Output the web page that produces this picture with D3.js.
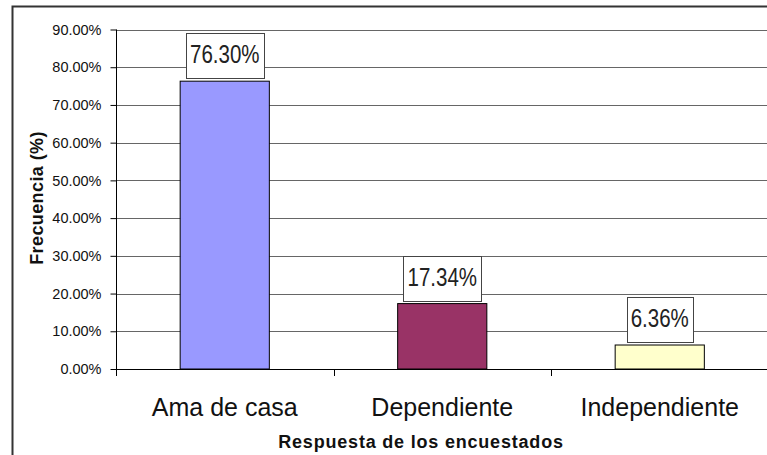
<!DOCTYPE html>
<html>
<head>
<meta charset="utf-8">
<script src="https://cdn.jsdelivr.net/npm/d3@7"></script>
<style>
  body { margin: 0; background: #fff; }
  svg { display: block; }
</style>
</head>
<body>
<div id="chart"></div>
<script>
// data
var categorias = ["Ama de casa", "Dependiente", "Independiente"];
var frecuencias = [76.30, 17.34, 6.36];
var colores = ["#9999FF", "#993366", "#FFFFCC"];
var yTicks = [0, 10, 20, 30, 40, 50, 60, 70, 80, 90];

var width = 767, height = 455;
var narrow = 0.82; // no Arial Narrow here, squeeze the labels instead

var svg = d3.select("#chart")
    .append("svg")
    .attr("width", width)
    .attr("height", height);

// outer frame (cut off on the right and bottom)
svg.append("rect")
    .attr("x", 12.5)
    .attr("y", 6.5)
    .attr("width", 900)
    .attr("height", 600)
    .style("fill", "#fff")
    .style("stroke", "#333")
    .style("stroke-width", 2);

// scales
var x = d3.scaleBand()
    .domain(categorias)
    .range([116, 768.5])
    .padding(0);

var y = d3.scaleLinear()
    .domain([0, 90])
    .range([369, 29.5]);

var barW = x.bandwidth() * 0.41;

// gridlines
svg.append("g")
    .selectAll("line")
    .data(yTicks.filter(function(d){ return d > 0; }))
    .enter()
    .append("line")
    .attr("x1", 116)
    .attr("x2", 769)
    .attr("y1", function(d){ return Math.round(y(d)) + 0.5; })
    .attr("y2", function(d){ return Math.round(y(d)) + 0.5; })
    .style("stroke", "#666")
    .style("stroke-width", 1);

// y axis
var yAxis = svg.append("g")
    .attr("transform", "translate(116.5,0)")
    .call(d3.axisLeft(y)
        .tickValues(yTicks)
        .tickSize(6)
        .tickPadding(9)
        .tickFormat(function(d){ return d.toFixed(2) + "%"; }));
yAxis.select(".domain").attr("d", "M0," + y(0) + "V" + y(90)).style("stroke", "#000");
yAxis.selectAll(".tick line").style("stroke", "#000");
yAxis.selectAll(".tick text")
    .style("font-family", "'Liberation Sans', Arial, sans-serif")
    .style("font-size", "14.5px")
    .style("fill", "#111");

// x axis line + boundary ticks
svg.append("line")
    .attr("x1", 116)
    .attr("x2", 769)
    .attr("y1", Math.round(y(0)) + 0.5)
    .attr("y2", Math.round(y(0)) + 0.5)
    .style("stroke", "#000");

var bordes = categorias.map(function(c){ return x(c); });
svg.append("g")
    .selectAll("line")
    .data(bordes)
    .enter()
    .append("line")
    .attr("x1", function(d){ return Math.round(d) + 0.5; })
    .attr("x2", function(d){ return Math.round(d) + 0.5; })
    .attr("y1", y(0))
    .attr("y2", y(0) + 7)
    .style("stroke", "#000");

// bars
svg.append("g")
    .selectAll("rect")
    .data(frecuencias)
    .enter()
    .append("rect")
    .attr("x", function(d, i){ return x(categorias[i]) + (x.bandwidth() - barW) / 2; })
    .attr("y", function(d){ return y(d); })
    .attr("width", barW)
    .attr("height", function(d){ return y(0) - y(d); })
    .style("fill", function(d, i){ return colores[i]; })
    .style("stroke", "#000")
    .style("stroke-width", 1);

// value labels in boxes
var etiquetas = svg.append("g")
    .selectAll("g")
    .data(frecuencias)
    .enter()
    .append("g");

etiquetas.append("text")
    .attr("transform", function(d, i){
        return "translate(" + (x(categorias[i]) + x.bandwidth() / 2) + "," + (y(d) - 18) + ") scale(" + narrow + ",1)";
    })
    .attr("text-anchor", "middle")
    .style("font-family", "'Liberation Sans', Arial, sans-serif")
    .style("font-size", "25px")
    .style("fill", "#222")
    .text(function(d){ return d.toFixed(2) + "%"; });

etiquetas.each(function(d, i){
    var g = d3.select(this);
    var bb = g.select("text").node().getBBox();
    var w = bb.width * narrow + 8;
    var cx = x(categorias[i]) + x.bandwidth() / 2;
    g.insert("rect", "text")
        .attr("x", Math.round(cx - w / 2) + 0.5)
        .attr("y", Math.round(y(d) - 48) + 0.5)
        .attr("width", Math.round(w))
        .attr("height", 45)
        .style("fill", "#fff")
        .style("stroke", "#444")
        .style("stroke-width", 1);
});

// category labels
svg.append("g")
    .selectAll("text")
    .data(categorias)
    .enter()
    .append("text")
    .attr("x", function(d){ return x(d) + x.bandwidth() / 2; })
    .attr("y", 416)
    .attr("text-anchor", "middle")
    .style("font-family", "'Liberation Sans', Arial, sans-serif")
    .style("font-size", "25px")
    .style("fill", "#111")
    .text(function(d){ return d; });

// axis titles
svg.append("text")
    .attr("x", 421)
    .attr("y", 448)
    .attr("text-anchor", "middle")
    .style("font-family", "'Liberation Sans', Arial, sans-serif")
    .style("font-size", "18px")
    .style("font-weight", "bold")
    .style("letter-spacing", "0.8px")
    .style("fill", "#111")
    .text("Respuesta de los encuestados");

svg.append("text")
    .attr("transform", "translate(43,198) rotate(-90)")
    .attr("text-anchor", "middle")
    .style("font-family", "'Liberation Sans', Arial, sans-serif")
    .style("font-size", "18px")
    .style("font-weight", "bold")
    .style("letter-spacing", "0.4px")
    .style("fill", "#111")
    .text("Frecuencia (%)");
</script>
</body>
</html>
